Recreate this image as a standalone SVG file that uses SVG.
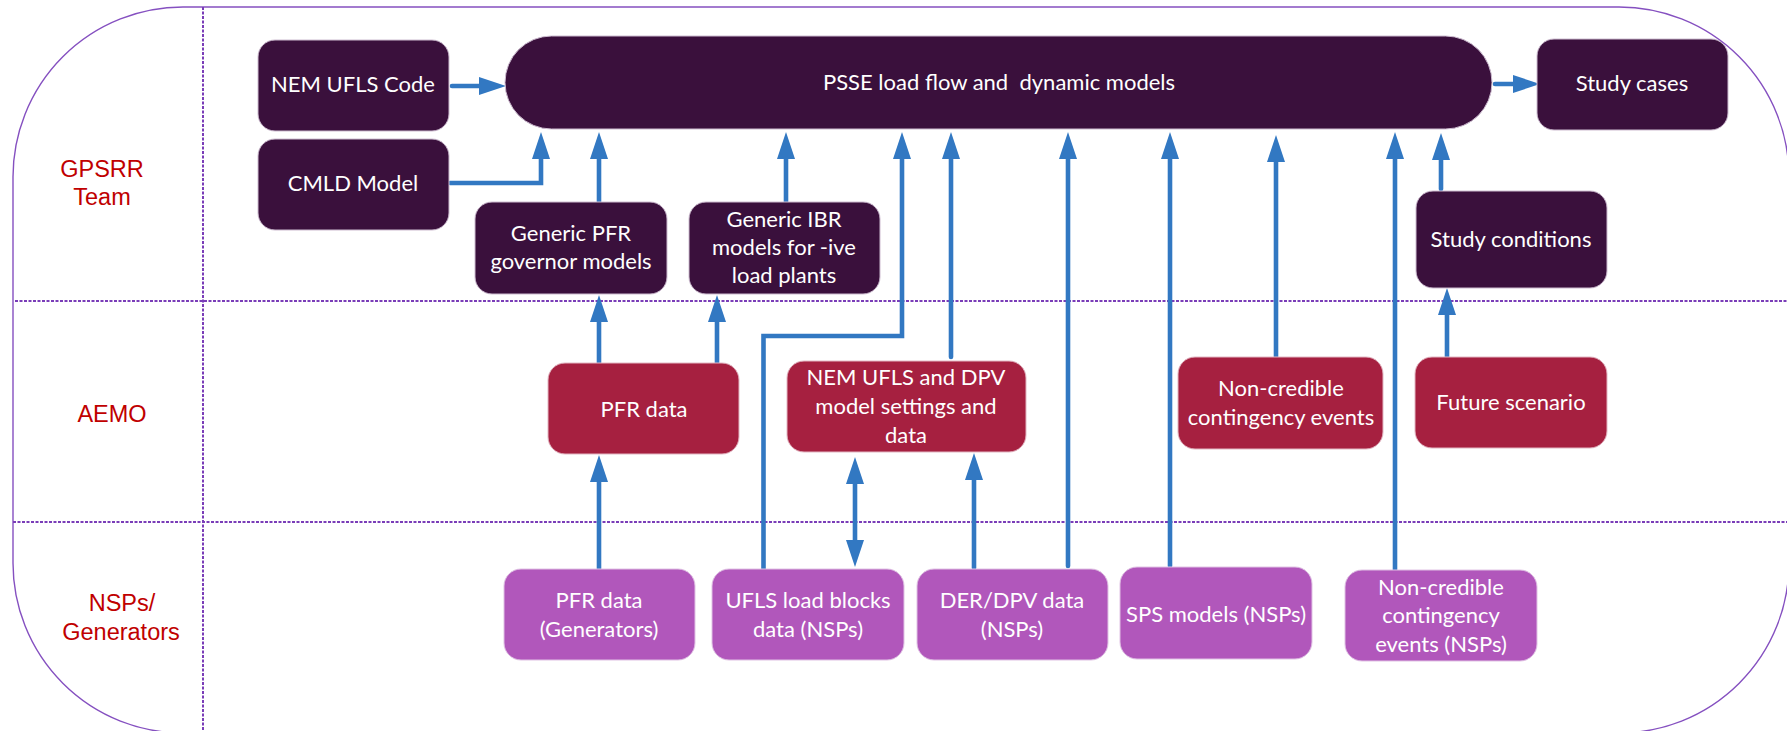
<svg xmlns="http://www.w3.org/2000/svg" width="1787" height="731" viewBox="0 0 1787 731">
<style>
.n text{font-family:Lato,"Open Sans","Liberation Sans",sans-serif;font-size:22px;fill:#ffffff;text-anchor:middle}
.dk{fill:#3A103C;stroke:#cdbcd0;stroke-width:1}
.cr{fill:#A62040;stroke:#e2b6c2;stroke-width:1}
.mg{fill:#B157BB;stroke:#e0c2e4;stroke-width:1}
.lane{font-family:"Liberation Sans",Arial,sans-serif;font-size:23.5px;fill:#C00000;text-anchor:middle}
.sep{stroke:#7A3DB8;stroke-width:2;stroke-dasharray:3 1.5;fill:none}
#connectors path{fill:none;stroke:#3278C2;stroke-width:4.6;stroke-linecap:round;stroke-linejoin:miter;marker-end:url(#ah)}
</style>
<defs>
<marker id="ah" markerUnits="userSpaceOnUse" markerWidth="27" markerHeight="18" refX="17" refY="9" orient="auto-start-reverse" viewBox="0 0 27 18">
<path d="M0,0 L27,9 L0,18 Z" fill="#3278C2"/>
</marker>
</defs>
<rect width="1787" height="731" fill="#ffffff"/>
<g id="frame">
<rect x="13" y="7" width="1776" height="726" rx="170" ry="170" fill="none" stroke="#8550C0" stroke-width="1.4"/>
<line class="sep" x1="203" y1="7" x2="203" y2="731"/>
<line class="sep" x1="15" y1="301" x2="1789" y2="301"/>
<line class="sep" x1="13" y1="522" x2="1789" y2="522"/>
<text class="lane" x="102" y="177">GPSRR</text>
<text class="lane" x="102" y="205">Team</text>
<text class="lane" x="112" y="422">AEMO</text>
<text class="lane" x="122" y="611">NSPs/</text>
<text class="lane" x="121" y="640">Generators</text>
</g>
<g id="connectors">
<path d="M452,86 H496"/>
<path d="M450,183 H541 V142"/>
<path d="M599,202 V142"/>
<path d="M786,202 V142"/>
<path d="M763.5,570 V336 H902 V142"/>
<path d="M951,357 V142"/>
<path d="M1068,566 V142"/>
<path d="M1170,566 V142"/>
<path d="M1276,357 V145"/>
<path d="M1395,571 V142"/>
<path d="M1441,189 V143"/>
<path d="M1495,84 H1530"/>
<path d="M1447,357 V298"/>
<path d="M599,363 V305"/>
<path d="M717,363 V305"/>
<path d="M599,570 V465"/>
<path d="M855,467 V557" style="marker-start:url(#ah)"/>
<path d="M974,568 V463"/>
</g>
<g id="n-nemufls" class="n"><rect class="dk" x="258" y="40" width="191" height="91" rx="17"/><text x="353" y="92">NEM UFLS Code</text></g>
<g id="n-cmld" class="n"><rect class="dk" x="258" y="139" width="191" height="91" rx="17"/><text x="353" y="191">CMLD Model</text></g>
<g id="n-psse" class="n"><rect class="dk" x="505" y="36" width="987" height="93" rx="46.5"/><text x="999" y="90" xml:space="preserve">PSSE load flow and  dynamic models</text></g>
<g id="n-studycases" class="n"><rect class="dk" x="1537" y="39" width="191" height="91" rx="17"/><text x="1632" y="91">Study cases</text></g>
<g id="n-genpfr" class="n"><rect class="dk" x="475" y="202" width="192" height="92" rx="17"/><text x="571" y="241">Generic PFR</text><text x="571" y="269">governor models</text></g>
<g id="n-genibr" class="n"><rect class="dk" x="689" y="202" width="191" height="92" rx="17"/><text x="784" y="227">Generic IBR</text><text x="784" y="255">models for -ive</text><text x="784" y="283">load plants</text></g>
<g id="n-studycond" class="n"><rect class="dk" x="1416" y="191" width="191" height="97" rx="17"/><text x="1511" y="247">Study conditions</text></g>
<g id="n-pfrdata" class="n"><rect class="cr" x="548" y="363" width="191" height="91" rx="17"/><text x="644" y="417">PFR data</text></g>
<g id="n-nemdpv" class="n"><rect class="cr" x="787" y="361" width="239" height="91" rx="17"/><text x="906" y="385">NEM UFLS and DPV</text><text x="906" y="414">model settings and</text><text x="906" y="443">data</text></g>
<g id="n-noncred" class="n"><rect class="cr" x="1178" y="357" width="205" height="92" rx="17"/><text x="1281" y="396">Non-credible</text><text x="1281" y="425">contingency events</text></g>
<g id="n-future" class="n"><rect class="cr" x="1415" y="357" width="192" height="91" rx="17"/><text x="1511" y="410">Future scenario</text></g>
<g id="n-pfrgen" class="n"><rect class="mg" x="504" y="569" width="191" height="91" rx="17"/><text x="599" y="608">PFR data</text><text x="599" y="637">(Generators)</text></g>
<g id="n-ufls" class="n"><rect class="mg" x="712" y="569" width="192" height="91" rx="17"/><text x="808" y="608">UFLS load blocks</text><text x="808" y="637">data (NSPs)</text></g>
<g id="n-der" class="n"><rect class="mg" x="917" y="569" width="191" height="91" rx="17"/><text x="1012" y="608">DER/DPV data</text><text x="1012" y="637">(NSPs)</text></g>
<g id="n-sps" class="n"><rect class="mg" x="1120" y="567" width="192" height="92" rx="17"/><text x="1216" y="622">SPS models (NSPs)</text></g>
<g id="n-noncrednsp" class="n"><rect class="mg" x="1345" y="570" width="192" height="91" rx="17"/><text x="1441" y="595">Non-credible</text><text x="1441" y="623">contingency</text><text x="1441" y="652">events (NSPs)</text></g>
</svg>
